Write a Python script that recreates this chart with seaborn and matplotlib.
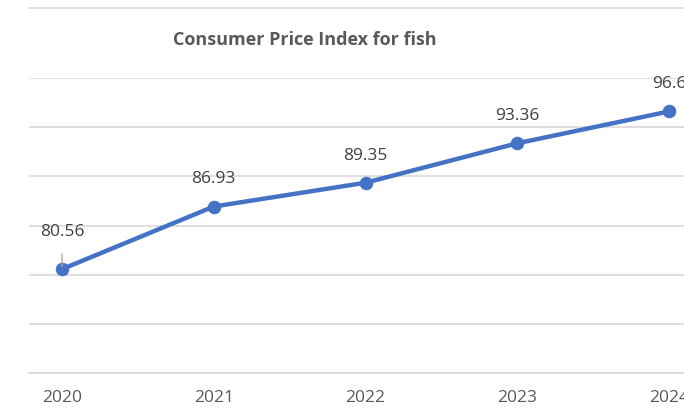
import matplotlib.pyplot as plt
from matplotlib.lines import Line2D
import pandas as pd
import seaborn as sns

years = [2020, 2021, 2022, 2023, 2024]
cpi = [80.56, 86.93, 89.35, 93.36, 96.6]
value_labels = ["80.56", "86.93", "89.35", "93.36", "96.6"]

sns.set_style("white")
plt.rcParams["font.family"] = ["Open Sans", "DejaVu Sans"]

df = pd.DataFrame({"year": years, "cpi": cpi})

fig = plt.figure(figsize=(6.84, 4.19), dpi=100)
ax = fig.add_axes([29 / 684, 46 / 419, 655 / 684, 295 / 419])

sns.lineplot(data=df, x="year", y="cpi", ax=ax, color="#4472C4",
             linewidth=3.2, marker="o", markersize=9,
             markeredgecolor="#4472C4", clip_on=False)

ax.set_xlim(2020 - 33 / 151.75, 2024 + 15 / 151.75)
ax.set_ylim(70, 100)
ax.set_yticks(range(70, 101, 5))
ax.yaxis.grid(True, color="#D9D9D9", linewidth=1.2)
ax.set_yticklabels([])
ax.tick_params(axis="y", length=0)
ax.set_xticks(years)
ax.set_xticklabels([str(y) for y in years], color="#595959", fontsize=12.5)
ax.tick_params(axis="x", length=0, pad=12)
ax.set_xlabel("")
ax.set_ylabel("")
for side in ["top", "right", "left"]:
    ax.spines[side].set_visible(False)
ax.spines["bottom"].set_color("#D9D9D9")
ax.spines["bottom"].set_linewidth(1.2)

# data labels
for i, (x, y) in enumerate(zip(years, cpi)):
    if i == 0:
        ax.annotate(value_labels[i], xy=(x, y), xytext=(0, 27),
                    textcoords="offset points", ha="center", va="center",
                    fontsize=12.5, color="#404040",
                    arrowprops=dict(arrowstyle="-", color="#A6A6A6",
                                    lw=1, shrinkA=8, shrinkB=2))
    else:
        ax.annotate(value_labels[i], xy=(x, y), xytext=(0, 19.5),
                    textcoords="offset points", ha="center", va="center",
                    fontsize=12.5, color="#404040")

fig.text(305 / 684, 1 - 40 / 419, "Consumer Price Index for fish",
         ha="center", va="center", fontsize=13, fontweight="bold",
         color="#595959")

fig.add_artist(Line2D([29 / 684, 1], [1 - 8 / 419, 1 - 8 / 419],
                      color="#D9D9D9", linewidth=1.2))

fig.savefig("out.png", dpi=100)
